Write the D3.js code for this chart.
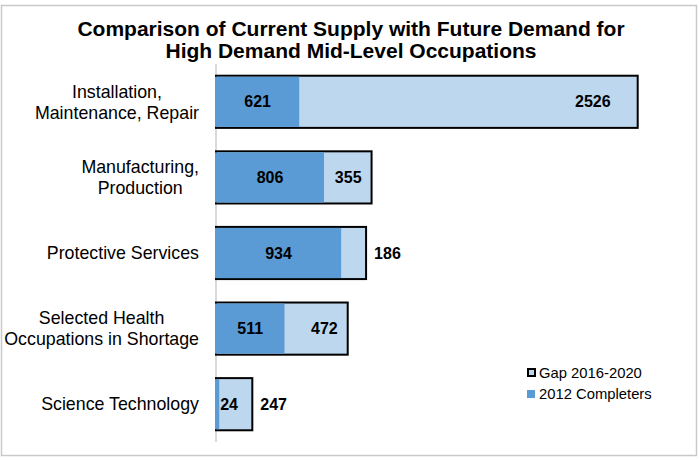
<!DOCTYPE html>
<html>
<head>
<meta charset="utf-8">
<script src="https://cdn.jsdelivr.net/npm/d3@7"></script>
<style>
  body { margin: 0; background: #fff; }
  text { font-family: "Liberation Sans", Arial, sans-serif; }
</style>
</head>
<body>
<figure id="bars" style="margin:0"></figure>
<script>
// chart data
const categories = [
  ["Installation,", "Maintenance, Repair"],
  ["Manufacturing,", "Production"],
  ["Protective Services"],
  ["Selected Health", "Occupations in Shortage"],
  ["Science Technology"]
];
const completers2012 = [621, 806, 934, 511, 24];
const gap20162020 = [2526, 355, 186, 472, 247];
const seriesNames = ["Gap 2016-2020", "2012 Completers"];
const titleLines = ["Comparison of Current Supply with Future Demand for",
                    "High Demand Mid-Level Occupations"];

const width = 699, height = 462;
const blue = "#5b9bd5", light = "#bdd7ee";

const svg = d3.select("figure#bars")
  .append("svg")
  .attr("width", width)
  .attr("height", height);

// chart area border
svg.append("rect")
  .attr("x", 1.5).attr("y", 5.5)
  .attr("width", 695).attr("height", 450)
  .attr("fill", "#fff")
  .attr("stroke", "#c9c9c9")
  .attr("stroke-width", 1.5);

// title
svg.append("text")
  .attr("text-anchor", "middle")
  .attr("font-size", 21)
  .attr("font-weight", "bold")
  .selectAll("tspan")
  .data(titleLines)
  .enter()
  .append("tspan")
  .attr("x", 351)
  .attr("y", (d, i) => 36 + i * 22)
  .text(d => d);

const ids = d3.range(categories.length);

const x = d3.scaleLinear()
  .domain([0, 3500])
  .range([216, 685]);

const y = d3.scaleBand()
  .domain(ids)
  .range([64, 442])
  .paddingInner(0.31)
  .paddingOuter(0.155);

// vertical axis line
svg.append("line")
  .attr("x1", x(0)).attr("x2", x(0))
  .attr("y1", 64).attr("y2", 442)
  .attr("stroke", "#b3b3b3")
  .attr("stroke-width", 1);

// category labels, each block centred, right edge at 199
const labels = svg.append("g");
ids.forEach(i => {
  const lines = categories[i];
  const t = labels.append("text")
    .attr("font-size", 17.8)
    .attr("fill", "#000")
    .attr("text-anchor", "middle");
  const cy = y(i) + y.bandwidth() / 2;
  lines.forEach((ln, j) => {
    t.append("tspan")
      .attr("y", cy + (j - (lines.length - 1) / 2) * 21)
      .attr("dy", "0.35em")
      .text(ln);
  });
  // widest line decides where the block sits
  let w = 0;
  t.selectAll("tspan").each(function () { w = Math.max(w, this.getComputedTextLength()); });
  t.selectAll("tspan").attr("x", 199 - w / 2);
});

// total bars (gap series, outlined)
const bars = svg.append("g");
bars.selectAll("rect.total")
  .data(ids)
  .enter()
  .append("rect")
  .attr("class", "total")
  .attr("x", x(0))
  .attr("y", i => y(i))
  .attr("width", i => x(completers2012[i] + gap20162020[i]) - x(0))
  .attr("height", y.bandwidth())
  .attr("fill", light)
  .attr("stroke", "#000")
  .attr("stroke-width", 2);

// completers bars
bars.selectAll("rect.comp")
  .data(ids)
  .enter()
  .append("rect")
  .attr("class", "comp")
  .attr("x", x(0) - 1)
  .attr("y", i => y(i) + 1)
  .attr("width", i => x(completers2012[i]) - x(0) + 1)
  .attr("height", y.bandwidth() - 2)
  .attr("fill", blue);

// data labels
const vals = svg.append("g")
  .attr("font-size", 16)
  .attr("font-weight", "bold")
  .attr("fill", "#000");

vals.selectAll("text.comp")
  .data(ids)
  .enter()
  .append("text")
  .attr("class", "comp")
  .attr("y", i => y(i) + y.bandwidth() / 2)
  .attr("dy", "0.35em")
  .each(function (i) {
    const w0 = x(completers2012[i]) - x(0);
    const t = d3.select(this).text(completers2012[i]);
    if (w0 > 30) {
      t.attr("x", x(0) + w0 / 2).attr("text-anchor", "middle");
    } else {
      t.attr("x", x(completers2012[i]) + 1).attr("text-anchor", "start");
    }
  });

vals.selectAll("text.gap")
  .data(ids)
  .enter()
  .append("text")
  .attr("class", "gap")
  .attr("y", i => y(i) + y.bandwidth() / 2)
  .attr("dy", "0.35em")
  .each(function (i) {
    const start = x(completers2012[i]);
    const end = x(completers2012[i] + gap20162020[i]);
    const w = end - start;
    const t = d3.select(this).text(gap20162020[i]);
    if (w > 40) {
      t.attr("x", Math.min(end - 10, start + w * 0.92)).attr("text-anchor", "end");
    } else {
      t.attr("x", end + 8).attr("text-anchor", "start");
    }
  });

// legend
const legend = svg.append("g");
const legendY = [373, 394];
legend.append("rect")
  .attr("x", 528).attr("y", legendY[0] - 4)
  .attr("width", 7).attr("height", 7)
  .attr("fill", light)
  .attr("stroke", "#000")
  .attr("stroke-width", 2);
legend.append("rect")
  .attr("x", 527).attr("y", legendY[1] - 4)
  .attr("width", 8).attr("height", 8)
  .attr("fill", blue);
legend.selectAll("text")
  .data(seriesNames)
  .enter()
  .append("text")
  .attr("x", 539)
  .attr("y", (d, i) => legendY[i])
  .attr("dy", "0.35em")
  .attr("font-size", 14.8)
  .text(d => d);
</script>
</body>
</html>
